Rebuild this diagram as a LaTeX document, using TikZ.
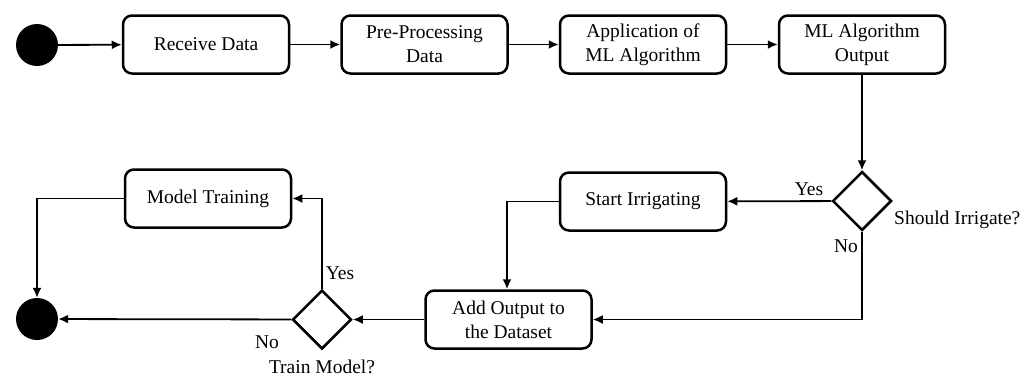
\documentclass[tikz,border=0pt]{standalone}
\usepackage{fontspec}
\setmainfont{Liberation Serif}
\usetikzlibrary{arrows.meta,shapes.geometric}
\begin{document}
\begin{tikzpicture}[x=1pt,y=-1pt,
  every node/.style={font=\fontsize{19.5}{24}\selectfont},
  box/.style={draw,line width=2.5pt,rounded corners=9pt,minimum width=166pt,minimum height=58pt,align=center,inner sep=2pt},
  dec/.style={draw,shape=diamond,line width=2.5pt,minimum width=59pt,minimum height=59pt,inner sep=0pt},
  dot/.style={circle,fill=black,minimum size=42pt,inner sep=0pt},
  lbl/.style={inner sep=0pt},
  conn/.style={line width=1.8pt,-{Latex[length=10pt,width=9pt]}}]
\useasboundingbox (0,0) rectangle (1035,376);
\node[dot] (start) at (37,45) {};
\node[box] (recv) at (206,44.5) {Receive Data};
\node[box] (pre) at (424.5,44.5) {Pre-Processing\\Data};
\node[box] (app) at (643,44.5) {Application of\\ML Algorithm};
\node[box] (out) at (862,44.5) {ML Algorithm\\Output};
\node[dec] (d1) at (862,201) {};
\node[box] (irr) at (643,201.5) {Start Irrigating};
\node[box] (add) at (508.5,319.5) {Add Output to\\the Dataset};
\node[dec] (d2) at (322,319.5) {};
\node[box] (train) at (208,198.5) {Model Training};
\node[dot] (end) at (37,319) {};
\node[lbl] (yes1) at (809,189) {Yes};
\node[lbl] (no1) at (846,246) {No};
\node[lbl,anchor=west] (q1) at (894,220) {Should Irrigate?};
\node[lbl] (yes2) at (340,273) {Yes};
\node[lbl] (no2) at (267,342) {No};
\node[lbl] (q2) at (322,367) {Train Model?};
\coordinate (c1) at (507,201.5);
\coordinate (c2) at (37,198.5);
\draw[conn] (start) -- (recv);
\draw[conn] (recv) -- (pre);
\draw[conn] (pre) -- (app);
\draw[conn] (app) -- (out);
\draw[conn] (out) -- (d1);
\draw[conn] (d1) -- (irr);
\draw[conn] (d1.south) |- (add.east);
\draw[conn] (irr.west) -- (c1) -- (c1 |- add.north);
\draw[conn] (add) -- (d2);
\draw[conn] (d2) -- (end);
\draw[conn] (d2.north) |- (train.east);
\draw[conn] (train.west) -- (c2) -- (end.north);
\end{tikzpicture}
\end{document}
